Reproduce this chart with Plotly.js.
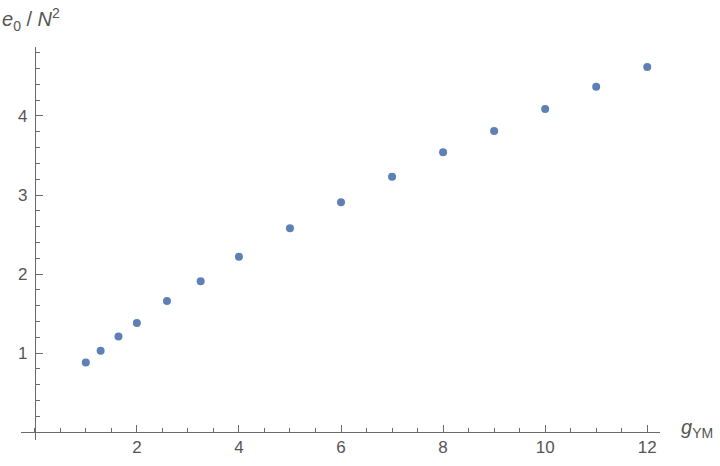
<!DOCTYPE html>
<html>
<head>
<meta charset="utf-8">
<script src="https://cdn.plot.ly/plotly-3.0.1.min.js"></script>
<style>
  html, body { margin: 0; padding: 0; background: #fff; }
  #plot { width: 720px; height: 466px; }
</style>
</head>
<body>
<div id="plot"></div>
<script>
// coupling values and energy per N^2
var gYM = [1, 1.29, 1.64, 2, 2.59, 3.25, 4, 5, 6, 7, 8, 9, 10, 11, 12];
var e0 = [0.88, 1.03, 1.21, 1.38, 1.66, 1.91, 2.22, 2.58, 2.91, 3.23, 3.54, 3.81, 4.09, 4.37, 4.62];

var xTicks = [2, 4, 6, 8, 10, 12];
var yTicks = [1, 2, 3, 4];

var axisGray = '#6a6a6a';
var labelFont = {family: 'Liberation Sans, Arial, sans-serif', size: 17, color: '#555555'};

var trace1 = {
  x: gYM,
  y: e0,
  type: 'scatter',
  mode: 'markers',
  marker: {color: '#5E81B5', size: 8},
  hoverinfo: 'x+y'
};

var xr = [-0.27, 12.25];
var yr = [-0.1, 4.873];

var layout = {
  width: 720,
  height: 466,
  margin: {l: 21, r: 60, t: 47, b: 26, pad: 0},
  paper_bgcolor: '#ffffff',
  plot_bgcolor: '#ffffff',
  showlegend: false,
  xaxis: {
    range: xr,
    anchor: 'free',
    position: (0 - yr[0]) / (yr[1] - yr[0]),  // x axis sits at y = 0
    showgrid: false,
    zeroline: false,
    showline: true,
    linecolor: axisGray,
    linewidth: 1,
    ticks: 'inside',
    ticklen: 7,
    tickcolor: axisGray,
    tickvals: xTicks,
    ticktext: xTicks.map(String),
    tickfont: labelFont,
    minor: {dtick: 0.5, ticks: 'inside', ticklen: 4, tickcolor: axisGray, showgrid: false}
  },
  yaxis: {
    range: yr,
    anchor: 'free',
    position: (0 - xr[0]) / (xr[1] - xr[0]),  // y axis sits at x = 0
    showgrid: false,
    zeroline: false,
    showline: true,
    linecolor: axisGray,
    linewidth: 1,
    ticks: 'inside',
    ticklen: 7,
    tickcolor: axisGray,
    tickvals: yTicks,
    ticktext: yTicks.map(String),
    tickfont: labelFont,
    ticklabelstandoff: 4,
    minor: {dtick: 0.2, ticks: 'inside', ticklen: 4, tickcolor: axisGray, showgrid: false}
  },
  annotations: [
    {
      text: '<i>e</i><sub>0</sub> / <i>N</i><sup>2</sup>',
      xref: 'paper', yref: 'paper',
      x: -0.033, y: 1.112, xanchor: 'left', yanchor: 'top',
      showarrow: false,
      font: {family: 'Liberation Sans, Arial, sans-serif', size: 20, color: '#555555'}
    },
    {
      text: '<i>g</i><sub>YM</sub>',
      xref: 'paper', yref: 'paper',
      x: 1.03, y: 0.03, xanchor: 'left', yanchor: 'middle',
      showarrow: false,
      font: {family: 'Liberation Sans, Arial, sans-serif', size: 20, color: '#555555'}
    }
  ]
};

Plotly.newPlot('plot', [trace1], layout, {staticPlot: true});
</script>
</body>
</html>
